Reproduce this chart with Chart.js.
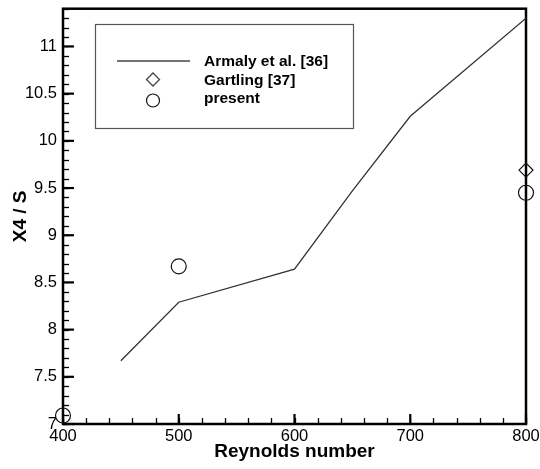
<!DOCTYPE html>
<html>
<head>
<meta charset="utf-8">
<script src="https://cdn.jsdelivr.net/npm/chart.js@4.4.1/dist/chart.umd.min.js"></script>
<style>
  html, body { margin: 0; padding: 0; background: #fff; }
  #wrap { width: 540px; height: 469px; }
</style>
</head>
<body>
<div id="wrap"><canvas id="chart" width="540" height="469"></canvas></div>
<script>
// Armaly et al. [36] - experimental curve
var armalyRe = [450, 500, 600, 650, 700, 800];
var armalyX4 = [7.67, 8.29, 8.64, 9.47, 10.26, 11.30];

// Gartling [37]
var gartlingRe = [800];
var gartlingX4 = [9.69];

// present results
var presentRe = [400, 500, 800];
var presentX4 = [7.09, 8.67, 9.45];

var seriesNames = ['Armaly et al. [36]', 'Gartling [37]', 'present'];
var xTicks = [400, 500, 600, 700, 800];
var yTicks = [7, 7.5, 8, 8.5, 9, 9.5, 10, 10.5, 11];

var FONT = '"Liberation Sans", Arial, Helvetica, sans-serif';

function pts(xs, ys) {
  return xs.map(function (x, i) { return { x: x, y: ys[i] }; });
}

// ticks pointing inward + thick frame
var framePlugin = {
  id: 'frame',
  beforeDatasetsDraw: function (chart) {
    var ctx = chart.ctx;
    var a = chart.chartArea;
    var xs = chart.scales.x, ys = chart.scales.y;
    ctx.save();
    ctx.strokeStyle = '#000';
    ctx.lineCap = 'butt';

    // minor ticks
    ctx.lineWidth = 1.3;
    for (var i = 20; i <= 40; i++) {
      var px = Math.round(xs.getPixelForValue(i * 20)) + 0.5;
      ctx.beginPath(); ctx.moveTo(px, a.bottom); ctx.lineTo(px, a.bottom - 6); ctx.stroke();
    }
    for (var j = 70; j <= 114; j++) {
      var py = Math.round(ys.getPixelForValue(j / 10)) + 0.5;
      ctx.beginPath(); ctx.moveTo(a.left, py); ctx.lineTo(a.left + 6, py); ctx.stroke();
    }
    // major ticks
    ctx.lineWidth = 2.2;
    xTicks.forEach(function (v) {
      var px = xs.getPixelForValue(v);
      ctx.beginPath(); ctx.moveTo(px, a.bottom); ctx.lineTo(px, a.bottom - 10); ctx.stroke();
    });
    yTicks.forEach(function (v) {
      var py = ys.getPixelForValue(v);
      ctx.beginPath(); ctx.moveTo(a.left, py); ctx.lineTo(a.left + 11, py); ctx.stroke();
    });

    ctx.lineWidth = 2.5;
    ctx.strokeRect(a.left, a.top, a.right - a.left, a.bottom - a.top);
    ctx.restore();
  },
  afterDraw: function (chart) {
    var ctx = chart.ctx;
    var box = { x: 95, y: 24, w: 258, h: 104 };
    ctx.save();
    ctx.fillStyle = '#fff';
    ctx.fillRect(box.x, box.y, box.w, box.h);
    ctx.strokeStyle = '#555';
    ctx.lineWidth = 1.2;
    ctx.strokeRect(box.x + 0.5, box.y + 0.5, box.w, box.h);

    // line sample
    ctx.strokeStyle = '#444';
    ctx.lineWidth = 1.3;
    ctx.beginPath(); ctx.moveTo(117, 61); ctx.lineTo(190, 61); ctx.stroke();

    // markers
    Chart.helpers.drawPoint(ctx, { pointStyle: 'rectRot', radius: 6.5, rotation: 0, borderWidth: 1.2 }, 153, 79.5);
    ctx.strokeStyle = '#111';
    ctx.lineWidth = 1.2;
    ctx.beginPath(); ctx.arc(153, 100.5, 6.5, 0, Math.PI * 2); ctx.stroke();

    ctx.fillStyle = '#000';
    ctx.font = 'bold 15.5px ' + FONT;
    ctx.textBaseline = 'alphabetic';
    ctx.textAlign = 'left';
    ctx.fillText(seriesNames[0], 204, 66);
    ctx.fillText(seriesNames[1], 204, 85);
    ctx.fillText(seriesNames[2], 204, 103);
    ctx.restore();
  }
};

var ctx = document.getElementById('chart').getContext('2d');
new Chart(ctx, {
  type: 'scatter',
  data: {
    datasets: [{
      label: seriesNames[0],
      data: pts(armalyRe, armalyX4),
      showLine: true,
      borderColor: '#333',
      borderWidth: 1.3,
      pointRadius: 0,
      tension: 0
    }, {
      label: seriesNames[1],
      data: pts(gartlingRe, gartlingX4),
      pointStyle: 'rectRot',
      pointRadius: 7,
      borderColor: '#111',
      backgroundColor: 'rgba(0,0,0,0)',
      borderWidth: 1.2,
      clip: false
    }, {
      label: seriesNames[2],
      data: pts(presentRe, presentX4),
      pointStyle: 'circle',
      pointRadius: 7.5,
      borderColor: '#111',
      backgroundColor: 'rgba(0,0,0,0)',
      borderWidth: 1.2,
      clip: false
    }]
  },
  options: {
    responsive: false,
    devicePixelRatio: 1,
    animation: false,
    layout: { padding: { top: 7, right: 14, left: 0, bottom: 0 } },
    plugins: {
      legend: { display: false },
      tooltip: { enabled: false }
    },
    scales: {
      x: {
        type: 'linear',
        min: 400,
        max: 800,
        grid: { display: false, drawTicks: false },
        border: { display: false },
        afterBuildTicks: function (s) { s.ticks = xTicks.map(function (v) { return { value: v }; }); },
        afterFit: function (s) { s.height = 45; s.paddingLeft = 0; s.paddingRight = 0; },
        ticks: {
          padding: 3,
          color: '#000',
          maxRotation: 0,
          font: { family: FONT, size: 16.5 },
          callback: function (v) { return String(v); }
        },
        title: {
          display: true,
          text: 'Reynolds number',
          color: '#000',
          font: { family: FONT, size: 19, weight: 'bold' },
          padding: { top: 0, bottom: 6 }
        }
      },
      y: {
        type: 'linear',
        min: 7,
        max: 11.4,
        grid: { display: false, drawTicks: false },
        border: { display: false },
        afterBuildTicks: function (s) { s.ticks = yTicks.map(function (v) { return { value: v }; }); },
        afterFit: function (s) { s.width = 63; s.paddingTop = 0; s.paddingBottom = 0; },
        ticks: {
          padding: 6,
          color: '#000',
          font: { family: FONT, size: 16.5 },
          callback: function (v) { return String(v); }
        },
        title: {
          display: true,
          text: 'X4 / S',
          color: '#000',
          font: { family: FONT, size: 19, weight: 'bold' },
          padding: { top: 9, bottom: 0 }
        }
      }
    }
  },
  plugins: [framePlugin]
});
</script>
</body>
</html>
